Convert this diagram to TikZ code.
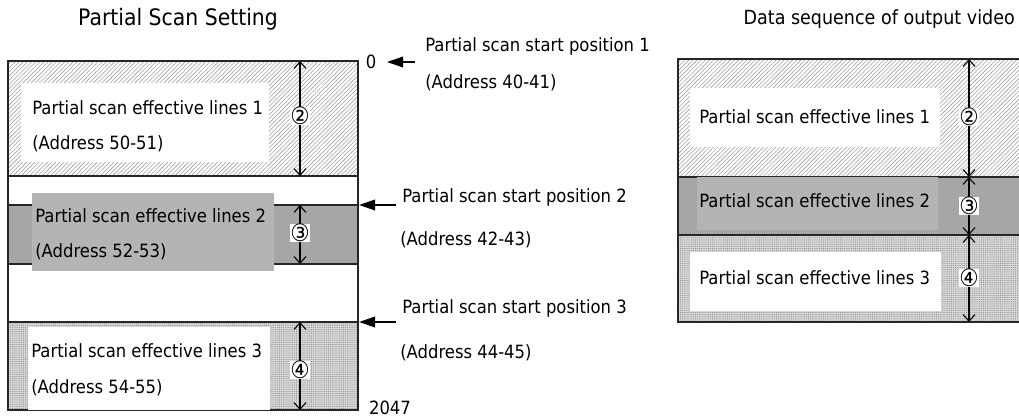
\documentclass[tikz,border=0pt]{standalone}
\usepackage{fontspec}
\setmainfont{DejaVu Sans}[FakeStretch=0.9]
\usetikzlibrary{arrows.meta,patterns.meta,positioning}

\definecolor{bandgray}{HTML}{A6A6A6}
\definecolor{boxgray}{HTML}{B4B4B4}
\definecolor{hatchgray}{HTML}{A0A0A0}
\definecolor{dotgray}{HTML}{D9D9D9}

\tikzset{
  frame/.style={draw=black!85,line width=0.9pt},
  hatched/.style={pattern={Lines[angle=45,distance=2.2pt,line width=0.45pt]},pattern color=hatchgray},
  dotfill/.style={preaction={fill=dotgray},pattern={Dots[distance=1.6pt,radius=0.45pt]},pattern color=black!45},
  bandfill/.style={fill=bandgray},
  whitebox/.style={fill=white,draw=none,inner sep=0pt,anchor=north west},
  graybox/.style={fill=boxgray,draw=none,inner sep=0pt,anchor=north west},
  txt/.style={anchor=west,inner sep=0pt},
  circnum/.style={fill=white,inner sep=0.3pt,font=\fontsize{18}{18}\selectfont},
  dim/.style={line width=0.8pt,{Straight Barb[length=5pt,width=9pt]}-{Straight Barb[length=5pt,width=9pt]}},
  startarr/.style={line width=1pt,-{Triangle[length=12pt,width=8pt]}}
}

\begin{document}
\begin{tikzpicture}[x=0.75pt,y=-0.75pt,
  every node/.style={font=\fontsize{13.7}{15}\selectfont}]
\useasboundingbox (0,0) rectangle (1019,417);
\clip (0,0) rectangle (1019,417);

% titles
\node[font=\fontsize{17}{19}\selectfont] (ltitle) at (178,19) {Partial Scan Setting};
\node[font=\fontsize{14.6}{17}\selectfont,anchor=east,inner sep=0pt] (rtitle) at (1015,19) {Data sequence of output video};

% left: partial scan setting
\fill[hatched] (8,61) rectangle (358,176);
\fill[bandfill] (8,205) rectangle (358,264);
\fill[dotfill] (8,322) rectangle (358,410);
\draw[frame] (8,61) rectangle (358,410);
\foreach \y in {176,205,264,322}
  \draw[frame] (8,\y) -- (358,\y);

\node[whitebox,minimum width=186pt,minimum height=59pt] (eff1box) at (21,83) {};
\node[txt] (eff1) at (32,108) {Partial scan effective lines 1};
\node[txt] (adr1) at (32,144) {(Address 50-51)};

\node[graybox,minimum width=181.5pt,minimum height=58.5pt] (eff2box) at (32,193) {};
\node[txt] (eff2) at (35,216) {Partial scan effective lines 2};
\node[txt] (adr2) at (35,252) {(Address 52-53)};

\node[whitebox,minimum width=181pt,minimum height=62pt] (eff3box) at (28,327) {};
\node[txt] (eff3) at (31,351) {Partial scan effective lines 3};
\node[txt] (adr3) at (31,388) {(Address 54-55)};

% dimension arrows, left
\coordinate (l2t) at (300,61);  \coordinate (l2b) at (300,176);
\coordinate (l3t) at (300,205); \coordinate (l3b) at (300,264);
\coordinate (l4t) at (300,322); \coordinate (l4b) at (300,410);
\draw[dim] (l2t) -- (l2b);
\draw[dim] (l3t) -- (l3b);
\draw[dim] (l4t) -- (l4b);
\node[circnum] (ln2) at (300,116) {②};
\node[circnum] (ln3) at (300,233) {③};
\node[circnum] (ln4) at (300,370) {④};

% start positions
\node (zero) at (371,62) {0};
\node (last) at (390,408) {2047};
\coordinate (s1a) at (415,62);  \coordinate (s1b) at (387,62);
\coordinate (s2a) at (396,205); \coordinate (s2b) at (359,205);
\coordinate (s3a) at (396,322); \coordinate (s3b) at (359,322);
\draw[startarr] (s1a) -- (s1b);
\draw[startarr] (s2a) -- (s2b);
\draw[startarr] (s3a) -- (s3b);
\node[txt] (sp1) at (425,46) {Partial scan start position 1};
\node[txt] (sa1) at (425,83) {(Address 40-41)};
\node[txt] (sp2) at (402,197) {Partial scan start position 2};
\node[txt] (sa2) at (400,240) {(Address 42-43)};
\node[txt] (sp3) at (402,308) {Partial scan start position 3};
\node[txt] (sa3) at (400,353) {(Address 44-45)};

% right: output video
\fill[hatched] (678,59) rectangle (1030,177);
\fill[bandfill] (678,177) rectangle (1030,235);
\fill[dotfill] (678,235) rectangle (1030,322);
\draw[frame] (1030,59) -- (678,59) -- (678,322) -- (1030,322);
\foreach \y in {177,235}
  \draw[frame] (678,\y) -- (1030,\y);

\node[whitebox,minimum width=187.5pt,minimum height=44pt] (out1box) at (690,88) {};
\node[txt] (out1) at (699,117) {Partial scan effective lines 1};
\node[graybox,minimum width=180.75pt,minimum height=39.75pt] (out2box) at (697,177) {};
\node[txt] (out2) at (699,201) {Partial scan effective lines 2};
\node[whitebox,minimum width=188pt,minimum height=44pt] (out3box) at (690,252) {};
\node[txt] (out3) at (699,278) {Partial scan effective lines 3};

% dimension arrows, right
\coordinate (r2t) at (969,59);  \coordinate (r2b) at (969,177);
\coordinate (r3t) at (969,177); \coordinate (r3b) at (969,235);
\coordinate (r4t) at (969,235); \coordinate (r4b) at (969,322);
\draw[dim] (r2t) -- (r2b);
\draw[dim] (r3t) -- (r3b);
\draw[dim] (r4t) -- (r4b);
\node[circnum] (rn2) at (969,117) {②};
\node[circnum] (rn3) at (969,206) {③};
\node[circnum] (rn4) at (969,278) {④};
\end{tikzpicture}
\end{document}
